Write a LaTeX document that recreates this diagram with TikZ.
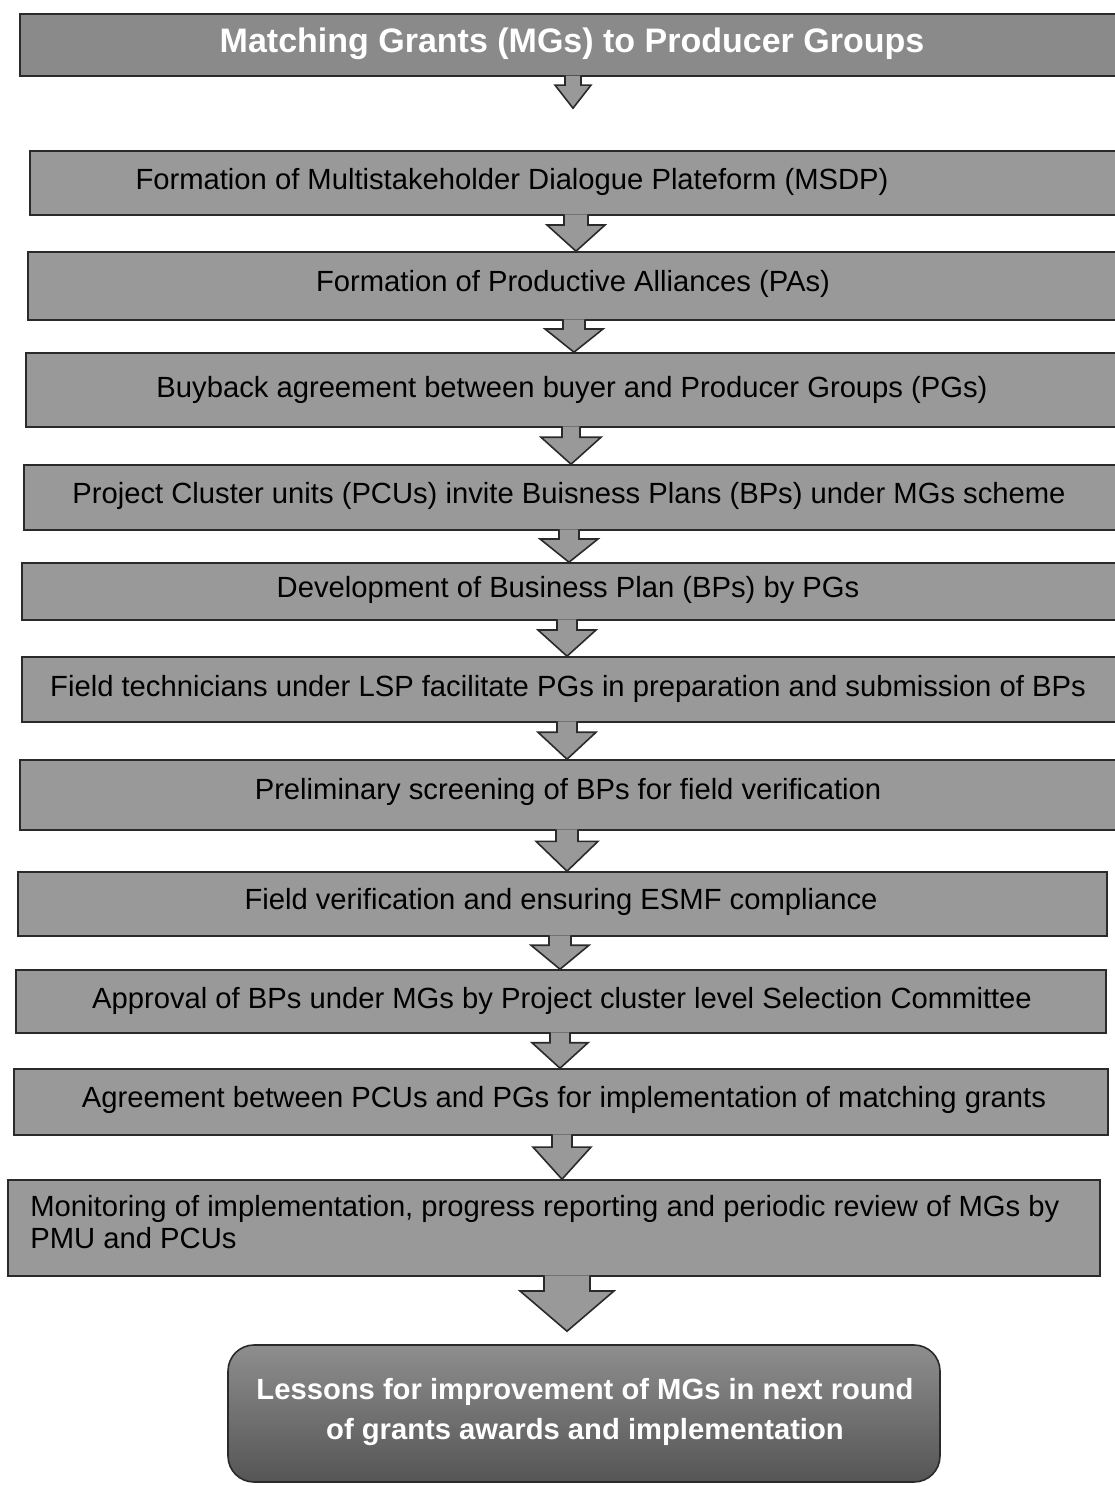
\documentclass[tikz,border=0pt]{standalone}
\usepackage{fontspec}
\setmainfont{Liberation Sans}
\usetikzlibrary{fit,calc}

\definecolor{boxgray}{HTML}{999999}
\definecolor{titlegray}{HTML}{8A8A8A}
\definecolor{edgegray}{HTML}{2A2A2A}
\definecolor{lessontop}{HTML}{8E8E8E}
\definecolor{lessonbot}{HTML}{555555}

\tikzset{
  stepbox/.style={draw=edgegray, line width=0.8pt, fill=boxgray, inner sep=0pt},
  titlebox/.style={draw=edgegray, line width=1pt, fill=titlegray, inner sep=0pt},
  lessonbox/.style={draw=edgegray, line width=0.8pt, rounded corners=13pt,
    top color=lessontop, bottom color=lessonbot, inner sep=0pt},
  steptext/.style={font=\fontsize{14.6}{16}\selectfont, text=black, inner sep=0pt},
  boldwhite/.style={font=\bfseries\fontsize{17}{20}\selectfont, text=white, inner sep=0pt},
  flowtip/.style={fill=boxgray, draw=edgegray, line width=0.8pt, line join=miter},
}

% block arrow from the bottom of one box towards the top of the next:
% #1 from, #2 to, #3 x position, #4 shaft half width, #5 head half width, #6 gap above target
\newcommand\flowarrow[6]{%
  \filldraw[flowtip] let \p1=(#1.south), \p2=(#2.north), \p3=(#3,0),
      \n1={#4*0.5pt}, \n2={#5*0.5pt}, \n3={\y2+#6*0.5pt},
      \n4={\y2+#6*0.5pt+0.74*(\y1-\y2-#6*0.5pt)} in
    (\x3-\n1,\y1+0.7pt) -- (\x3-\n1,\n4) -- (\x3-\n2,\n4) -- (\x3,\n3)
    -- (\x3+\n2,\n4) -- (\x3+\n1,\n4) -- (\x3+\n1,\y1+0.7pt);
}

\begin{document}
\begin{tikzpicture}[x=0.5pt, y=-0.5pt]
\useasboundingbox[fill=white] (0,0) rectangle (1114,1486);

% title bar
\node[titlebox, fit={(20,14) (1116,76)}] (title) {};
\node[boldwhite] (titletext) at (572,44) {Matching Grants (MGs) to Producer Groups};

% process steps
\node[stepbox, fit={(30,151) (1116,215)}] (b1) {};
\node[stepbox, fit={(28,252) (1116,320)}] (b2) {};
\node[stepbox, fit={(26,353) (1116,427)}] (b3) {};
\node[stepbox, fit={(24,465) (1116,530)}] (b4) {};
\node[stepbox, fit={(22,563) (1116,620)}] (b5) {};
\node[stepbox, fit={(22,657) (1116,722)}] (b6) {};
\node[stepbox, fit={(20,760) (1116,830)}] (b7) {};
\node[stepbox, fit={(18,872) (1107,936)}] (b8) {};
\node[stepbox, fit={(16,970) (1106,1033)}] (b9) {};
\node[stepbox, fit={(14,1069) (1108,1135)}] (b10) {};
\node[stepbox, fit={(8,1180) (1100,1276)}] (b11) {};

\node[steptext] (t1) at (512,182) {Formation of Multistakeholder Dialogue Plateform (MSDP)};
\node[steptext] (t2) at (573,284) {Formation of Productive Alliances (PAs)};
\node[steptext] (t3) at (572,390) {Buyback agreement between buyer and Producer Groups (PGs)};
\node[steptext] (t4) at (569,496) {Project Cluster units (PCUs) invite Buisness Plans (BPs) under MGs scheme};
\node[steptext] (t5) at (568,590) {Development of Business Plan (BPs) by PGs};
\node[steptext] (t6) at (568,689) {Field technicians under LSP facilitate PGs in preparation and submission of BPs};
\node[steptext] (t7) at (568,792) {Preliminary screening of BPs for field verification};
\node[steptext] (t8) at (561,902) {Field verification and ensuring ESMF compliance};
\node[steptext] (t9) at (562,1001) {Approval of BPs under MGs by Project cluster level Selection Committee};
\node[steptext] (t10) at (564,1100) {Agreement between PCUs and PGs for implementation of matching grants};
\node[steptext, anchor=west, align=left] (t11) at (30,1222)
  {Monitoring of implementation, progress reporting and periodic review of MGs by\\PMU and PCUs};

% closing box
\node[lessonbox, fit={(228,1345) (940,1482)}] (lessons) {};
\node[boldwhite, align=center, font=\bfseries\fontsize{14.6}{20}\selectfont] (lessontext) at (585,1412)
  {Lessons for improvement of MGs in next round\\of grants awards and implementation};

% connectors
\flowarrow{title}{b1}{573}{8}{18}{42}
\flowarrow{b1}{b2}{576}{12}{29}{0}
\flowarrow{b2}{b3}{574}{11}{29}{0}
\flowarrow{b3}{b4}{571}{9}{30}{0}
\flowarrow{b4}{b5}{569}{10}{29}{0}
\flowarrow{b5}{b6}{567}{10}{29}{0}
\flowarrow{b6}{b7}{567}{10}{29}{0}
\flowarrow{b7}{b8}{567}{11}{31}{0}
\flowarrow{b8}{b9}{560}{11}{29}{0}
\flowarrow{b9}{b10}{560}{10}{28}{0}
\flowarrow{b10}{b11}{562}{10}{29}{0}
\flowarrow{b11}{lessons}{567}{23}{47}{13}
\end{tikzpicture}
\end{document}
